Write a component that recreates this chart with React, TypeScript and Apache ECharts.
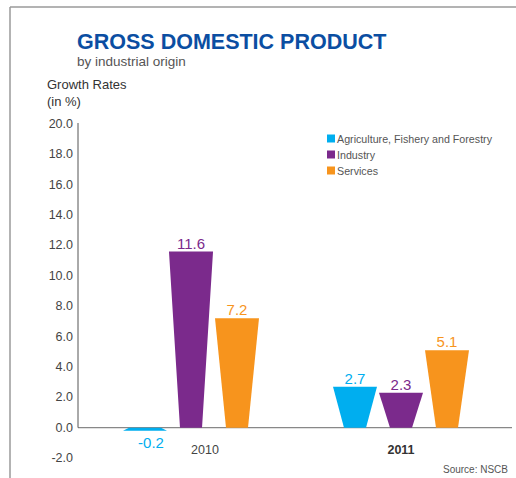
import React, { useEffect, useRef } from 'react';
import * as echarts from 'echarts';

const years = ['2010', '2011'];
const seriesNames = ['Agriculture, Fishery and Forestry', 'Industry', 'Services'];
const agriculture = [-0.2, 2.7];
const industry = [11.6, 2.3];
const services = [7.2, 5.1];
const seriesValues = [agriculture, industry, services];
const colors = ['#00AEEF', '#7B2A8C', '#F7941D'];
const yMin = -2;
const yMax = 20;
const yInterval = 2;

const FONT = '"Liberation Sans", Arial, Helvetica, sans-serif';

export default function App() {
  const ref = useRef<HTMLDivElement>(null);

  useEffect(() => {
    if (!ref.current) return;
    const chart = echarts.init(ref.current, null, { renderer: 'svg' });

    const makeSeries = (k: number) => {
      const offset = (k - 1) * 46;
      const color = colors[k];
      return {
        type: 'custom',
        name: seriesNames[k],
        itemStyle: { color },
        encode: { x: 0, y: 1 },
        data: seriesValues[k].map((v, i) => [i, v]),
        renderItem: (params: any, api: any) => {
          const ci = api.value(0);
          const v = api.value(1);
          const top = api.coord([ci, v]);
          const base = api.coord([ci, 0]);
          const cx = top[0] + offset;
          const neg = v < 0;
          const half = 22;
          const baseHalf = neg ? 16 : 11;
          return {
            type: 'group',
            children: [
              {
                type: 'polygon',
                shape: {
                  points: [
                    [cx - half, top[1]],
                    [cx + half, top[1]],
                    [cx + baseHalf, base[1]],
                    [cx - baseHalf, base[1]],
                  ],
                },
                style: { fill: color },
              },
              {
                type: 'text',
                x: neg ? cx + 6 : cx,
                y: neg ? top[1] + 4 : top[1] - 1,
                style: {
                  text: v.toFixed(1),
                  fill: color,
                  font: `15px ${FONT}`,
                  align: 'center',
                  verticalAlign: neg ? 'top' : 'bottom',
                },
              },
            ],
          };
        },
      };
    };

    chart.setOption({
      animation: false,
      backgroundColor: '#ffffff',
      textStyle: { fontFamily: FONT },
      title: {
        text: 'GROSS DOMESTIC PRODUCT',
        subtext: 'by industrial origin',
        left: 77,
        top: 31,
        itemGap: 1,
        padding: 0,
        textStyle: { fontFamily: FONT, fontSize: 21.5, fontWeight: 'bold', color: '#0B4EA2' },
        subtextStyle: { fontFamily: FONT, fontSize: 13.5, color: '#555555' },
      },
      legend: {
        orient: 'vertical',
        left: 327,
        top: 133,
        icon: 'rect',
        itemWidth: 8,
        itemHeight: 8,
        itemGap: 5,
        padding: 0,
        data: seriesNames,
        textStyle: { fontFamily: FONT, fontSize: 10.7, color: '#555555', padding: [0, 0, 0, -3] },
      },
      grid: { left: 86, right: 10, top: 124, bottom: 20, containLabel: false },
      xAxis: {
        type: 'category',
        data: years,
        offset: -30,
        axisTick: { show: false },
        axisLine: { show: false, onZero: false },
        axisLabel: {
          margin: 15,
          formatter: (v: string) => (v === years[1] ? `{b|${v}}` : `{n|${v}}`),
          rich: {
            n: { fontFamily: FONT, fontSize: 12.5, color: '#444444', padding: [0, 0, 0, 28] },
            b: { fontFamily: FONT, fontSize: 12.5, color: '#333333', fontWeight: 'bold' },
          },
        },
      },
      yAxis: {
        type: 'value',
        min: yMin,
        max: yMax,
        interval: yInterval,
        offset: 8,
        splitLine: { show: false },
        axisLine: { show: false },
        axisTick: { show: false },
        axisLabel: {
          margin: 5,
          fontFamily: FONT,
          fontSize: 12.5,
          color: '#444444',
          padding: [0, 0, 3, 0],
          formatter: (v: number) => v.toFixed(1),
        },
      },
      series: [0, 1, 2].map(makeSeries),
    });

    const y0 = chart.convertToPixel({ yAxisIndex: 0 }, 0) as number;
    const y20 = chart.convertToPixel({ yAxisIndex: 0 }, yMax) as number;

    chart.setOption({
      graphic: [
        { type: 'line', shape: { x1: 10, y1: 7, x2: 516, y2: 7 }, style: { stroke: '#9a9a9a', lineWidth: 1.5 } },
        { type: 'line', shape: { x1: 10, y1: 7, x2: 10, y2: 478 }, style: { stroke: '#9a9a9a', lineWidth: 1.5 } },
        { type: 'line', shape: { x1: 78, y1: y0, x2: 512, y2: y0 }, style: { stroke: '#888888', lineWidth: 1.2 } },
        { type: 'line', shape: { x1: 78, y1: y20 - 1, x2: 78, y2: y0 }, style: { stroke: '#555555', lineWidth: 1 } },
        {
          type: 'text',
          left: 47,
          top: 76,
          style: { text: 'Growth Rates\n(in %)', font: `13px ${FONT}`, fill: '#333333', lineHeight: 17 },
        },
        {
          type: 'text',
          right: 8,
          top: 464,
          style: { text: 'Source: NSCB', font: `10px ${FONT}`, fill: '#555555' },
        },
      ],
    });

    return () => chart.dispose();
  }, []);

  return (
    <div
      ref={ref}
      style={{ position: 'fixed', left: 0, top: 0, width: 516, height: 478 }}
    />
  );
}
